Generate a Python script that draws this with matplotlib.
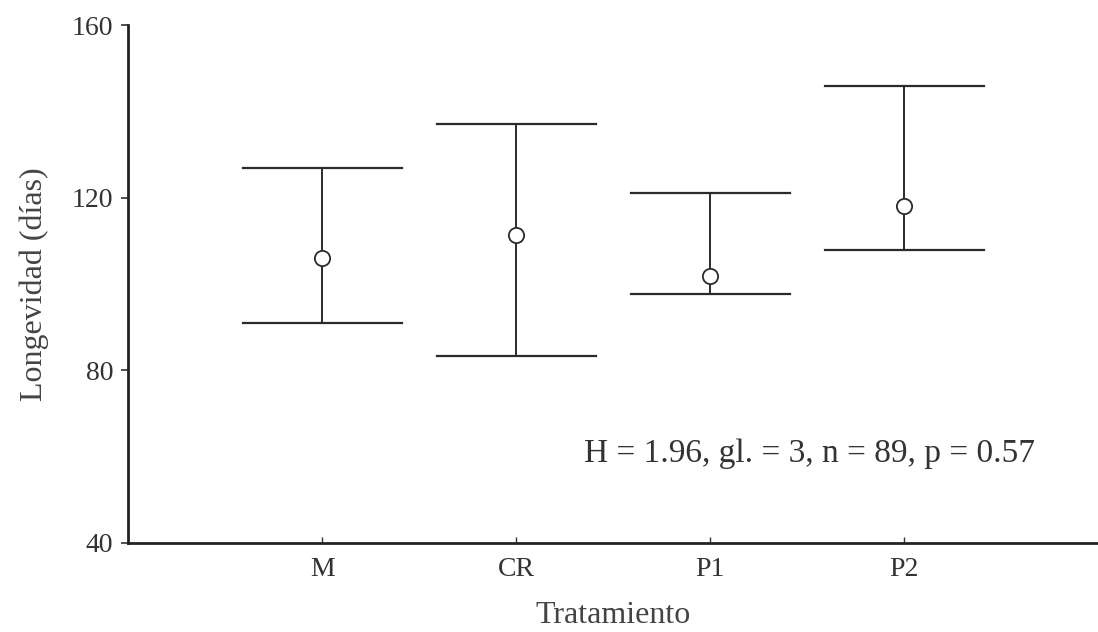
import numpy as np
from matplotlib import pyplot as plt

plt.rcParams['font.family'] = ['Liberation Serif', 'DejaVu Serif']

# datos
trat = ['M', 'CR', 'P1', 'P2']
mediana = [106.0, 111.4, 101.9, 118.1]
superior = [127.0, 137.2, 121.2, 146.0]
inferior = [91.0, 83.3, 97.7, 107.9]
texto = 'H = 1.96, gl. = 3, n = 89, p = 0.57'

fig = plt.figure(figsize=(10.98, 6.32), dpi=100)
ax = fig.add_axes([0.117, 0.141, 0.883, 0.819])

x = np.arange(1, len(trat) + 1)
col = '#2b2b2b'
w = 0.41
for i in range(len(trat)):
    ax.plot([x[i], x[i]], [inferior[i], superior[i]], color=col, lw=1.4, zorder=2)
    ax.plot([x[i] - w, x[i] + w], [superior[i], superior[i]], color=col, lw=1.6, zorder=2)
    ax.plot([x[i] - w, x[i] + w], [inferior[i], inferior[i]], color=col, lw=1.6, zorder=2)
ax.plot(x, mediana, 'o', ms=11, mfc='white', mec=col, mew=1.3, zorder=3, linestyle='none')

ax.set_xlim(0, 5.0)
ax.set_ylim(40, 160)
ax.set_yticks([40, 80, 120, 160])
ax.set_xticks(x)
ax.set_xticklabels(trat)
ax.spines['top'].set_visible(False)
ax.spines['right'].set_visible(False)
ax.spines['left'].set_linewidth(2)
ax.spines['bottom'].set_linewidth(2)
ax.spines['left'].set_color('#222222')
ax.spines['bottom'].set_color('#222222')
ax.tick_params(axis='y', direction='out', length=5, width=1.2, labelsize=20, pad=6, colors='#333333')
ax.tick_params(axis='x', direction='in', length=4, width=1, labelsize=20, pad=10, colors='#333333')

ax.set_ylabel('Longevidad (días)', fontsize=23, color='#444444', labelpad=16)
ax.set_xlabel('Tratamiento', fontsize=23, color='#444444', labelpad=14)

ax.text(2.35, 60.7, texto, fontsize=24, color='#333333', ha='left', va='center')

fig.savefig('out.png', dpi=100)
